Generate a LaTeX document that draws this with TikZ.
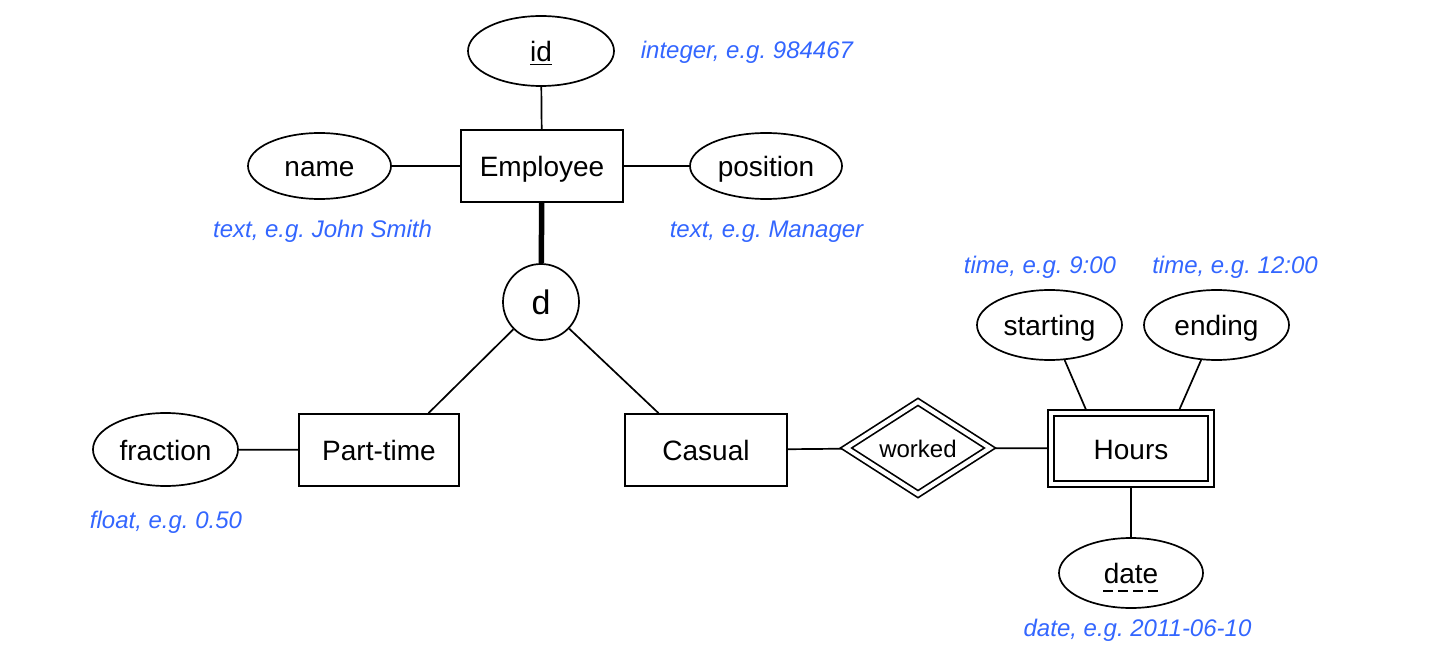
\documentclass[tikz,border=0pt]{standalone}
\usepackage{fontspec}
\setmainfont{Liberation Sans}
\usetikzlibrary{shapes.geometric,calc}
\definecolor{notecol}{RGB}{51,102,255}
\frenchspacing
\begin{document}
\begin{tikzpicture}[x=0.5pt,y=-0.5pt,line width=0.85pt,
  attr/.style={ellipse,draw,inner sep=0pt,text height=10.5pt,text depth=0pt,font=\fontsize{14}{16}\selectfont},
  entity/.style={rectangle,draw,inner sep=0pt,minimum width=81pt,minimum height=36pt,text height=10.5pt,text depth=0pt,font=\fontsize{14}{16}\selectfont},
  weak/.style={double,double distance=2.1pt,outer sep=1.9pt},
  note/.style={text=notecol,inner sep=0pt,text height=9pt,text depth=0pt,font=\itshape\fontsize{12}{14}\selectfont}]
\useasboundingbox (0,0) rectangle (1440,652);
% attributes and entities
\node[attr,minimum width=73pt,minimum height=35pt] (id) at (541,51) {\underline{id}};
\node[entity] (emp) at (542,166) {Employee};
\node[attr,minimum width=71.5pt,minimum height=33pt] (name) at (319.5,166) {name};
\node[attr,minimum width=76pt,minimum height=33pt] (pos) at (766,166) {position};
\node[circle,draw,minimum size=38pt,inner sep=0pt,text height=12.5pt,text depth=0pt,font=\fontsize{17}{19}\selectfont] (d) at (541,302) {d};
\node[entity,minimum width=80pt] (pt) at (379,450) {Part-time};
\node[entity] (cas) at (706,450) {Casual};
\node[attr,minimum width=72.5pt,minimum height=36.5pt] (frac) at (165.5,449.5) {fraction};
\node[diamond,draw,weak,inner sep=0pt,minimum width=73.5pt,minimum height=45pt,text height=9pt,text depth=0pt,font=\fontsize{12}{14}\selectfont] (wk) at (918,448) {worked};
\node[entity,weak,minimum width=80pt,minimum height=35.6pt] (hrs) at (1131,448.5) {Hours};
\node[attr,minimum width=72.5pt,minimum height=35pt] (start) at (1049.5,325) {starting};
\node[attr,minimum width=72.5pt,minimum height=35pt] (end) at (1216.5,325) {ending};
\node[attr,minimum width=72pt,minimum height=35pt] (date) at (1131,573) {date};
\draw[line width=1pt,dash pattern=on 5pt off 2.5pt] ([xshift=-14pt,yshift=-3.5pt]date.base) -- ([xshift=14pt,yshift=-3.5pt]date.base);
% connectors
\draw (id) -- (emp);
\draw (name) -- (emp);
\draw (emp) -- (pos);
\draw[line width=2.75pt] (emp) -- (d);
\draw (d) -- ($(pt.north west)!0.806!(pt.north east)$);
\draw (d) -- ($(cas.north west)!0.21!(cas.north east)$);
\draw (frac) -- (pt);
\draw (cas) -- (wk);
\draw (wk) -- (hrs);
\draw (start) -- ($(hrs.north west)!0.23!(hrs.north east)$);
\draw (end) -- ($(hrs.north west)!0.79!(hrs.north east)$);
\draw (hrs) -- (date);
% notes
\node[note,anchor=west] (nid) at (640,50) {integer, e.g. 984467};
\node[note] (nname) at (322.5,229) {text, e.g. John Smith};
\node[note] (npos) at (766.5,229) {text, e.g. Manager};
\node[note] (nst) at (1040,265) {time, e.g. 9:00};
\node[note] (nend) at (1235,265) {time, e.g. 12:00};
\node[note] (nfr) at (166,519) {float, e.g. 0.50};
\node[note] (ndt) at (1137.5,627) {date, e.g. 2011-06-10};
\end{tikzpicture}
\end{document}
